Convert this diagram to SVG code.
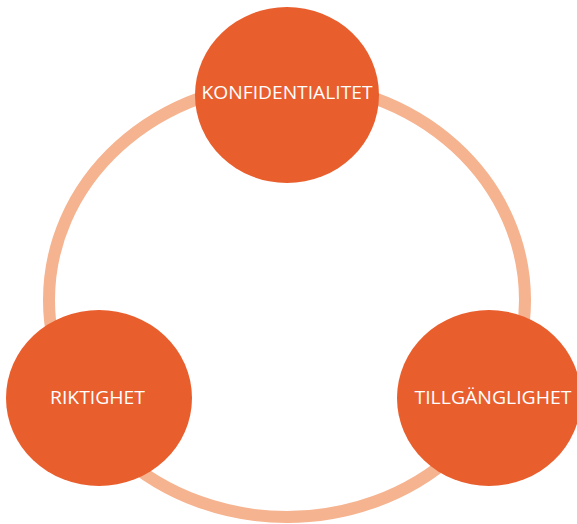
<svg xmlns="http://www.w3.org/2000/svg" width="577" height="524" viewBox="0 0 577 524">
<style>
.node{fill:#E95E2D}
.lbl{fill:#FFFFFF;font-family:"Open Sans","Noto Sans",sans-serif;font-size:19px;text-anchor:middle}
.ring{fill:none;stroke:#F6B38F;stroke-width:12}
</style>
<rect width="577" height="524" fill="#FFFFFF"/>
<g id="connectors">
<ellipse class="ring" cx="287" cy="300" rx="238" ry="217"/>
</g>
<g id="konfidentialitet">
<ellipse class="node" cx="287" cy="95" rx="92" ry="88"/>
<text class="lbl" x="287" y="99" textLength="171" lengthAdjust="spacingAndGlyphs">KONFIDENTIALITET</text>
</g>
<g id="riktighet">
<ellipse class="node" cx="99" cy="398" rx="93" ry="88"/>
<text class="lbl" x="97.5" y="404" textLength="95" lengthAdjust="spacingAndGlyphs">RIKTIGHET</text>
</g>
<g id="tillganglighet">
<ellipse class="node" cx="489" cy="398" rx="92" ry="88"/>
<text class="lbl" x="493" y="403.5" textLength="157" lengthAdjust="spacingAndGlyphs">TILLGÄNGLIGHET</text>
</g>
</svg>
